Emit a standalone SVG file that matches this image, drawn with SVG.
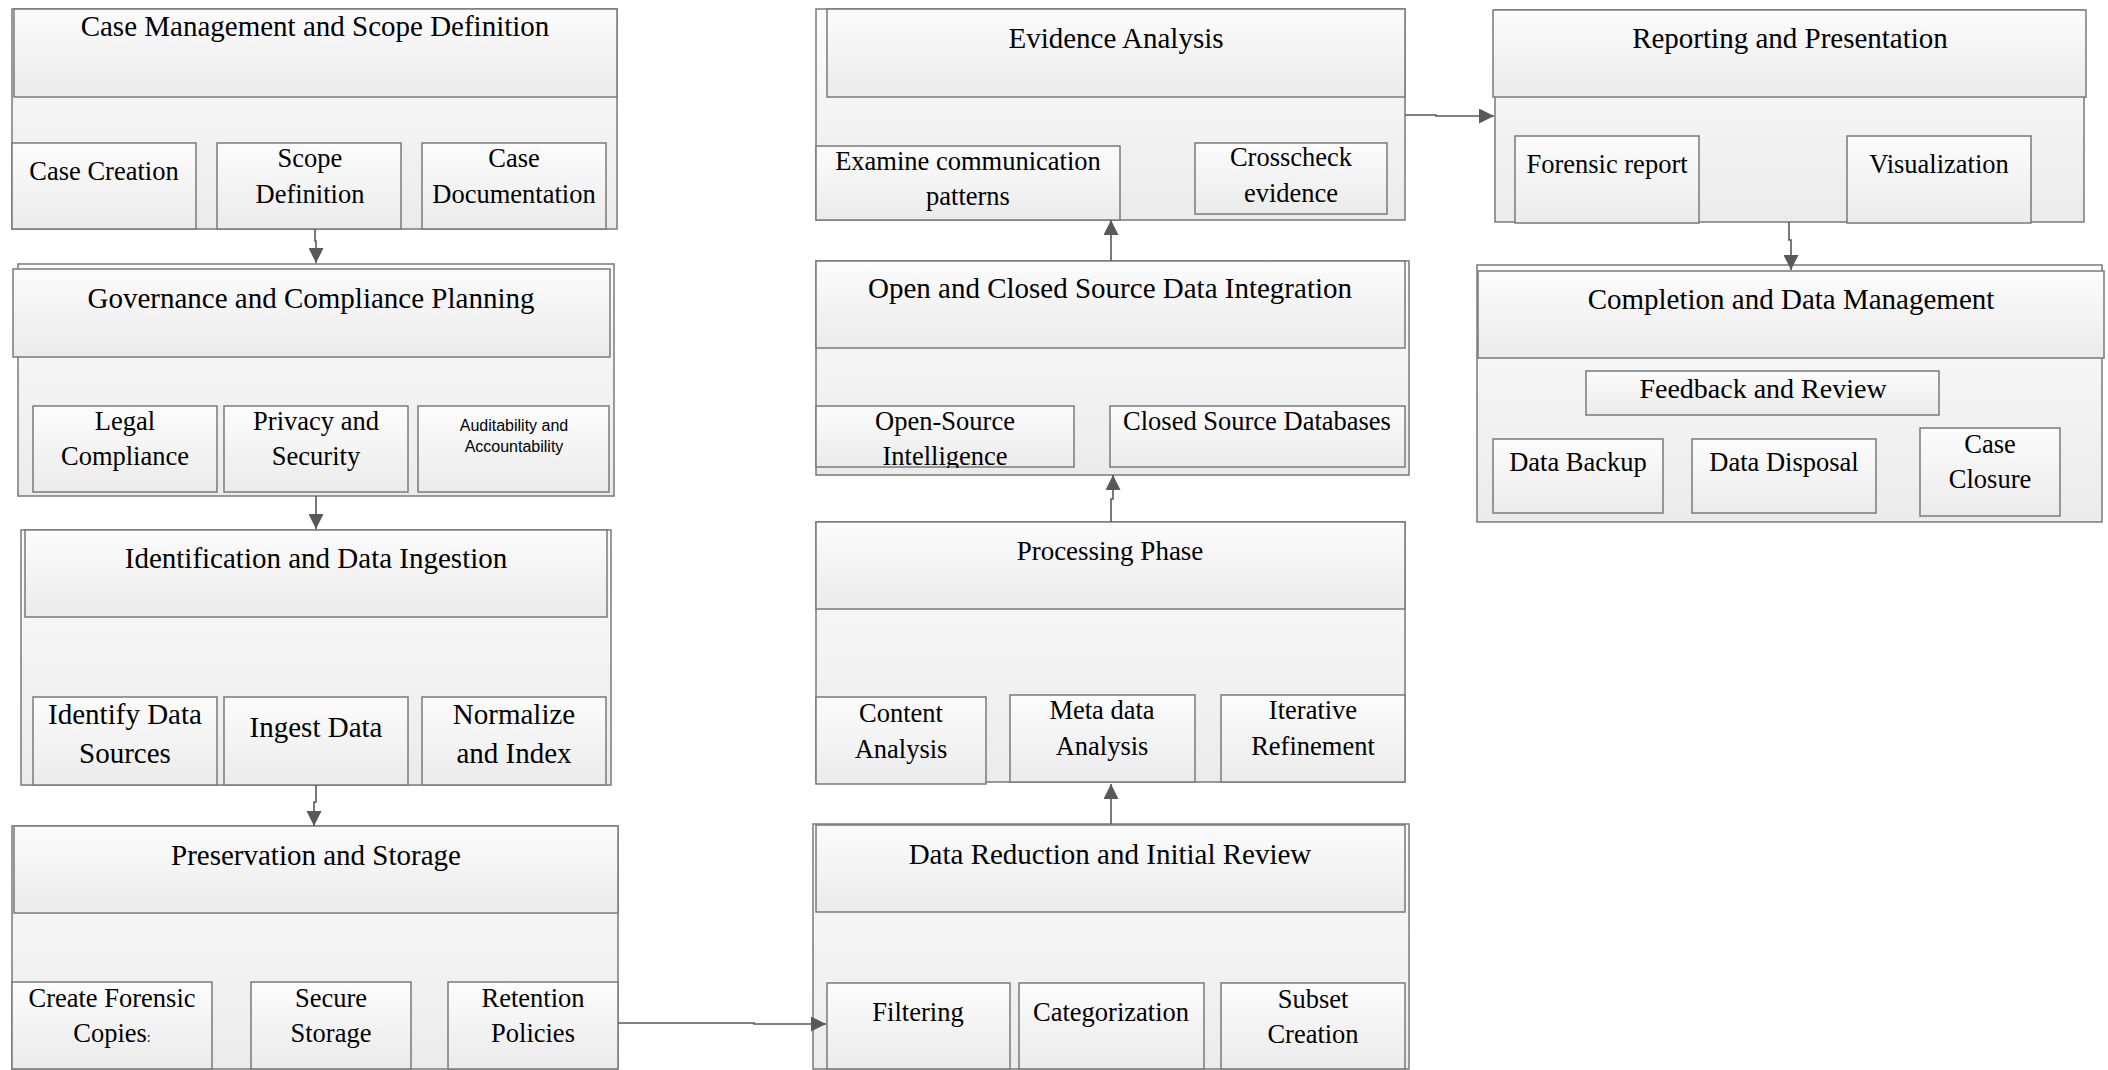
<svg xmlns="http://www.w3.org/2000/svg" width="2108" height="1070" viewBox="0 0 2108 1070">
<style>
.b{fill:url(#g);stroke:#7a7a7a;stroke-width:1.5}
.t{font-family:"Liberation Serif","Times New Roman",serif;fill:#000;text-anchor:middle}
.h{font-size:29px}
.s{font-size:26.5px}
.m{font-size:29px}
.a{font-family:"Liberation Sans",Arial,sans-serif;font-size:16px;fill:#000;text-anchor:middle}
.c{fill:none;stroke:#595959;stroke-width:1.6;marker-end:url(#ah)}
</style>
<defs>
<linearGradient id="g" x1="0" y1="0" x2="0" y2="1">
<stop offset="0" stop-color="#fcfcfc"/>
<stop offset="1" stop-color="#ebebeb"/>
</linearGradient>
<marker id="ah" markerWidth="15" markerHeight="15" refX="15" refY="7.5" orient="auto" markerUnits="userSpaceOnUse">
<path d="M0,0 L15,7.5 L0,15 z" fill="#595959"/>
</marker>
<clipPath id="osclip"><rect x="816" y="406" width="258" height="62"/></clipPath>
</defs>
<rect width="2108" height="1070" fill="#fff"/>

<g id="case-management">
<rect class="b" x="12" y="9" width="605" height="220"/>
<rect class="b" x="14" y="9" width="603" height="88"/>
<rect class="b" x="12" y="143" width="184" height="86"/>
<rect class="b" x="217" y="143" width="184" height="86"/>
<rect class="b" x="422" y="143" width="184" height="86"/>
<text class="t h" x="315" y="36">Case Management and Scope Definition</text>
<text class="t s" x="104" y="180">Case Creation</text>
<text class="t s" x="310" y="167">Scope</text>
<text class="t s" x="310" y="203">Definition</text>
<text class="t s" x="514" y="167">Case</text>
<text class="t s" x="514" y="203">Documentation</text>
</g>

<g id="governance">
<rect class="b" x="18" y="264" width="596" height="232"/>
<rect class="b" x="13" y="269" width="597" height="88"/>
<rect class="b" x="33" y="406" width="184" height="86"/>
<rect class="b" x="224" y="406" width="184" height="86"/>
<rect class="b" x="418" y="406" width="191" height="86"/>
<text class="t h" x="311" y="308">Governance and Compliance Planning</text>
<text class="t s" x="125" y="430">Legal</text>
<text class="t s" x="125" y="465">Compliance</text>
<text class="t s" x="316" y="430">Privacy and</text>
<text class="t s" x="316" y="465">Security</text>
<text class="a" x="514" y="431">Auditability and</text>
<text class="a" x="514" y="452">Accountability</text>
</g>

<g id="identification">
<rect class="b" x="21" y="530" width="590" height="255"/>
<rect class="b" x="25" y="530" width="582" height="87"/>
<rect class="b" x="33" y="697" width="184" height="88"/>
<rect class="b" x="224" y="697" width="184" height="88"/>
<rect class="b" x="422" y="697" width="184" height="88"/>
<text class="t h" x="316" y="568">Identification and Data Ingestion</text>
<text class="t m" x="125" y="724">Identify Data</text>
<text class="t m" x="125" y="763">Sources</text>
<text class="t m" x="316" y="737">Ingest Data</text>
<text class="t m" x="514" y="724">Normalize</text>
<text class="t m" x="514" y="763">and Index</text>
</g>

<g id="preservation">
<rect class="b" x="12" y="826" width="606" height="243"/>
<rect class="b" x="14" y="826" width="604" height="87"/>
<rect class="b" x="12" y="982" width="200" height="87"/>
<rect class="b" x="251" y="982" width="160" height="87"/>
<rect class="b" x="448" y="982" width="170" height="87"/>
<text class="t h" x="316" y="865">Preservation and Storage</text>
<text class="t s" x="112" y="1007">Create Forensic</text>
<text class="t s" x="112" y="1042">Copies<tspan font-size="14px">:</tspan></text>
<text class="t s" x="331" y="1007">Secure</text>
<text class="t s" x="331" y="1042">Storage</text>
<text class="t s" x="533" y="1007">Retention</text>
<text class="t s" x="533" y="1042">Policies</text>
</g>

<g id="data-reduction">
<rect class="b" x="813" y="824" width="596" height="245"/>
<rect class="b" x="816" y="825" width="589" height="87"/>
<rect class="b" x="827" y="983" width="183" height="86"/>
<rect class="b" x="1019" y="983" width="185" height="86"/>
<rect class="b" x="1221" y="983" width="184" height="86"/>
<text class="t h" x="1110" y="864">Data Reduction and Initial Review</text>
<text class="t s" x="918" y="1021">Filtering</text>
<text class="t s" x="1111" y="1021">Categorization</text>
<text class="t s" x="1313" y="1008">Subset</text>
<text class="t s" x="1313" y="1043">Creation</text>
</g>

<g id="processing">
<rect class="b" x="816" y="522" width="589" height="260"/>
<rect class="b" x="816" y="522" width="589" height="87"/>
<rect class="b" x="816" y="697" width="170" height="87"/>
<rect class="b" x="1010" y="695" width="185" height="87"/>
<rect class="b" x="1221" y="695" width="184" height="87"/>
<text class="t" font-size="27px" x="1110" y="560">Processing Phase</text>
<text class="t s" x="901" y="722">Content</text>
<text class="t s" x="901" y="758">Analysis</text>
<text class="t s" x="1102" y="719">Meta data</text>
<text class="t s" x="1102" y="755">Analysis</text>
<text class="t s" x="1313" y="719">Iterative</text>
<text class="t s" x="1313" y="755">Refinement</text>
</g>

<g id="integration">
<rect class="b" x="816" y="261" width="593" height="214"/>
<rect class="b" x="816" y="261" width="589" height="87"/>
<rect class="b" x="816" y="406" width="258" height="61"/>
<rect class="b" x="1110" y="406" width="295" height="61"/>
<text class="t h" x="1110" y="298">Open and Closed Source Data Integration</text>
<text class="t s" x="945" y="430">Open-Source</text>
<text class="t s" x="945" y="465" clip-path="url(#osclip)">Intelligence</text>
<text class="t s" x="1257" y="430">Closed Source Databases</text>
</g>

<g id="evidence-analysis">
<rect class="b" x="816" y="9" width="589" height="211"/>
<rect class="b" x="827" y="9" width="578" height="88"/>
<rect class="b" x="816" y="146" width="304" height="74"/>
<rect class="b" x="1195" y="143" width="192" height="71"/>
<text class="t h" x="1116" y="48">Evidence Analysis</text>
<text class="t s" x="968" y="170">Examine communication</text>
<text class="t s" x="968" y="205">patterns</text>
<text class="t s" x="1291" y="166">Crosscheck</text>
<text class="t s" x="1291" y="202">evidence</text>
</g>

<g id="reporting">
<rect class="b" x="1495" y="10" width="589" height="212"/>
<rect class="b" x="1493" y="10" width="593" height="87"/>
<rect class="b" x="1515" y="136" width="184" height="87"/>
<rect class="b" x="1847" y="136" width="184" height="87"/>
<text class="t h" x="1790" y="48">Reporting and Presentation</text>
<text class="t s" x="1607" y="173">Forensic report</text>
<text class="t s" x="1939" y="173">Visualization</text>
</g>

<g id="completion">
<rect class="b" x="1477" y="265" width="625" height="257"/>
<rect class="b" x="1478" y="271" width="626" height="87"/>
<rect class="b" x="1586" y="371" width="353" height="44"/>
<rect class="b" x="1493" y="439" width="170" height="74"/>
<rect class="b" x="1692" y="439" width="184" height="74"/>
<rect class="b" x="1920" y="428" width="140" height="88"/>
<text class="t h" x="1791" y="309">Completion and Data Management</text>
<text class="t" font-size="28px" x="1763" y="398">Feedback and Review</text>
<text class="t s" x="1578" y="471">Data Backup</text>
<text class="t s" x="1784" y="471">Data Disposal</text>
<text class="t s" x="1990" y="453">Case</text>
<text class="t s" x="1990" y="488">Closure</text>
</g>

<g id="connectors">
<path class="c" d="M315,229 V241 H316 V263"/>
<path class="c" d="M316,496 V529"/>
<path class="c" d="M316,785 V802 H314 V826"/>
<path class="c" d="M618,1023 H754 V1024 H826"/>
<path class="c" d="M1111,824 V784"/>
<path class="c" d="M1111,522 V499 H1113 V475"/>
<path class="c" d="M1111,261 V220"/>
<path class="c" d="M1405,115 H1436 V116 H1494"/>
<path class="c" d="M1789,222 V240 H1791 V270"/>
</g>
</svg>
